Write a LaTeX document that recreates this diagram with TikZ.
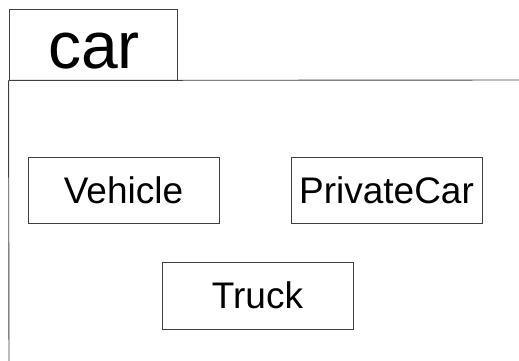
\documentclass[tikz,border=0pt]{standalone}
\usepackage{fontspec}
\setmainfont{Liberation Sans}
\begin{document}
\begin{tikzpicture}[x=1pt,y=-1pt,
  edge/.style={draw=black!75,line width=0.9pt},
  classbox/.style={edge,rectangle,inner sep=0pt,minimum width=191pt,minimum height=66pt,
    font=\fontsize{37}{40}\selectfont}]
  \useasboundingbox (0,0) rectangle (519,361);
  \clip (0,0) rectangle (519,361);
  % package tab
  \node[edge,rectangle,inner sep=0pt,minimum width=168pt,minimum height=71pt] (tab) at (93,44.5) {};
  % package name, set on its baseline inside the tab
  \node[anchor=base,inner sep=0pt,font=\fontsize{66}{70}\selectfont] (pkgname) at (94,69) {car};
  % package body (extends past the page edges)
  \coordinate (bodyR) at (530,80);
  \coordinate (bodyB) at (9,372);
  \draw[edge] (tab.south west) -- (bodyR);
  \draw[edge] (tab.south west) -- (bodyB);
  % classes
  \node[classbox] (vehicle) at (123.5,190) {Vehicle};
  \node[classbox] (privatecar) at (386.5,190) {PrivateCar};
  \node[classbox,minimum height=67pt] (truck) at (257.5,295.5) {Truck};
\end{tikzpicture}
\end{document}
